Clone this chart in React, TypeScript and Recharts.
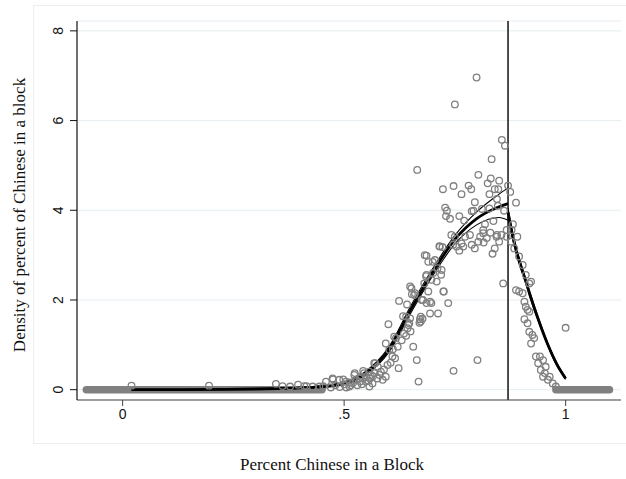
import {
  ComposedChart,
  XAxis,
  YAxis,
  CartesianGrid,
  Scatter,
  Line,
  ReferenceLine,
} from "recharts";

// cutoff used in the density test
const cutoff = 0.87;

// axis ticks
const xTicks = [0, 0.5, 1];
const xTickLabels: Record<number, string> = { 0: "0", 0.5: ".5", 1: "1" };
const yTicks = [0, 2, 4, 6, 8];

// long runs of empty bins (density 0), first and last bin midpoint
const emptyLeft = [-0.082, 0.45];
const emptyRight = [0.978, 1.099];

// non-empty bin midpoints and their densities
const binX = [
  0.799, 0.75, 0.856, 0.863, 0.833, 0.665, 0.803, 0.831, 0.824, 0.85, 0.723, 0.747, 0.781, 0.787,
  0.765, 0.828, 0.84, 0.848, 0.87, 0.875, 0.888, 0.845, 0.795, 0.728, 0.732, 0.73, 0.739, 0.76,
  0.788, 0.811, 0.837, 0.861, 0.881, 0.818, 0.771, 0.742, 0.891, 0.845, 0.792, 0.828, 0.847, 0.867,
  0.878, 0.814, 0.844, 0.855, 0.75, 0.773, 0.807, 0.822, 0.716, 0.746, 0.765, 0.788, 0.754, 0.769,
  0.803, 0.835, 0.859, 0.682, 0.69, 0.705, 0.72, 0.686, 0.697, 0.709, 0.724, 0.735, 0.69, 0.686,
  0.697, 0.694, 0.712, 0.678, 0.784, 0.814, 0.867, 0.83, 0.801, 0.747, 0.668, 0.664, 0.656, 0.673,
  0.6, 0.624, 0.642, 0.649, 0.653, 0.658, 0.686, 0.715, 0.722, 0.7, 0.711, 0.719, 0.685, 0.681,
  0.673, 0.677, 0.64, 0.647, 0.643, 0.617, 0.613, 0.621, 0.594, 0.602, 0.609, 0.623, 0.568, 0.576,
  0.583, 0.568, 0.557, 0.545, 0.538, 0.523, 0.527, 0.504, 0.489, 0.474, 0.459, 0.444, 0.429, 0.549,
  0.564, 0.587, 0.594, 0.557, 0.512, 0.895, 0.903, 0.91, 0.918, 0.922, 0.888, 0.895, 0.903, 0.907,
  0.91, 0.914, 0.918, 0.907, 0.914, 0.918, 0.925, 0.929, 0.922, 0.933, 0.942, 0.949, 0.938, 0.955,
  0.944, 0.953, 0.964, 0.96, 0.971, 0.978, 0.949, 1.0, 0.02, 0.195, 0.346, 0.361, 0.378, 0.396,
  0.41, 0.415, 0.453, 0.475, 0.498, 0.524, 0.543, 0.57, 0.513, 0.536, 0.558, 0.633, 0.649, 0.671,
  0.67, 0.645, 0.652, 0.66, 0.701, 0.725, 0.675, 0.694, 0.76, 0.795, 0.815, 0.85, 0.84, 0.877,
  0.884, 0.47, 0.48, 0.49, 0.5, 0.505, 0.515, 0.52, 0.53, 0.535, 0.54, 0.55, 0.555, 0.56,
  0.565, 0.575, 0.58, 0.59, 0.598, 0.605, 0.61, 0.615, 0.63, 0.635, 0.64, 0.65,
];
const binY = [
  6.96, 6.36, 5.57, 5.44, 5.14, 4.9, 4.79, 4.71, 4.6, 4.66, 4.47, 4.54, 4.55, 4.47,
  4.36, 4.36, 4.47, 4.47, 4.55, 4.41, 4.17, 4.25, 4.18, 4.06, 3.99, 3.87, 3.81, 3.87,
  3.98, 4.03, 3.76, 3.99, 3.69, 3.69, 3.77, 3.45, 3.41, 3.45, 3.99, 4.04, 4.1, 3.56,
  3.56, 3.56, 3.41, 3.45, 3.41, 3.41, 3.41, 3.38, 3.19, 3.23, 3.26, 3.23, 3.19, 3.19,
  3.3, 3.03, 2.37, 3.0, 2.85, 2.89, 2.67, 2.56, 2.45, 2.41, 2.19, 1.93, 2.19, 1.93,
  1.93, 1.7, 1.7, 2.0, 3.45, 3.49, 3.41, 3.5, 0.66, 0.42, 0.18, 0.66, 0.96, 1.52,
  1.46, 1.98, 1.9, 2.3, 2.13, 2.11, 2.99, 3.2, 3.18, 2.85, 2.71, 2.56, 2.53, 2.37,
  1.63, 1.58, 1.63, 1.48, 1.37, 1.15, 1.18, 0.96, 1.03, 0.89, 0.74, 0.48, 0.59, 0.51,
  0.4, 0.37, 0.4, 0.37, 0.29, 0.33, 0.22, 0.18, 0.22, 0.25, 0.18, 0.07, 0.07, 0.18,
  0.14, 0.22, 0.29, 0.07, 0.07, 2.97, 2.78, 2.56, 2.37, 2.41, 2.22, 2.19, 2.15, 1.96,
  1.85, 1.78, 1.74, 1.57, 1.48, 1.29, 1.22, 1.15, 1.03, 0.74, 0.74, 0.66, 0.59, 0.51,
  0.44, 0.37, 0.29, 0.22, 0.14, 0.07, 0.29, 1.38, 0.09, 0.09, 0.13, 0.08, 0.07, 0.11,
  0.08, 0.08, 0.08, 0.23, 0.23, 0.37, 0.42, 0.59, 0.16, 0.18, 0.25, 1.64, 1.59, 1.57,
  1.49, 1.44, 2.26, 2.15, 2.6, 2.19, 2.0, 1.96, 3.1, 3.15, 3.28, 3.3, 3.15, 3.3,
  3.15, 0.05, 0.1, 0.06, 0.12, 0.05, 0.1, 0.15, 0.1, 0.25, 0.12, 0.28, 0.2, 0.33,
  0.3, 0.25, 0.33, 0.45, 0.55, 0.6, 0.9, 0.7, 1.1, 1.25, 1.2, 1.3,
];

// fitted density left of the cutoff, with CI bands
const fitLeftX = [0.02, 0.1, 0.2, 0.3, 0.35, 0.4, 0.45, 0.5, 0.55, 0.6, 0.65, 0.7, 0.75, 0.8, 0.85, 0.87];
const fitLeft = [0.0, 0.0, 0.005, 0.015, 0.025, 0.04, 0.07, 0.14, 0.38, 0.88, 1.78, 2.62, 3.35, 3.82, 4.08, 4.15];
const fitLeftHi = [0.01, 0.01, 0.015, 0.025, 0.035, 0.05, 0.09, 0.17, 0.42, 0.94, 1.86, 2.7, 3.44, 3.97, 4.36, 4.5];
const fitLeftLo = [-0.01, -0.01, -0.005, 0.005, 0.015, 0.03, 0.05, 0.11, 0.34, 0.82, 1.7, 2.54, 3.25, 3.68, 3.84, 3.78];

// fitted density right of the cutoff, with CI bands
const fitRightX = [0.87, 0.88, 0.89, 0.9, 0.91, 0.92, 0.94, 0.96, 0.98, 1.0];
const fitRight = [3.95, 3.45, 3.05, 2.72, 2.42, 2.1, 1.52, 1.0, 0.57, 0.25];
const fitRightHi = [4.05, 3.53, 3.12, 2.78, 2.47, 2.15, 1.56, 1.03, 0.6, 0.27];
const fitRightLo = [3.85, 3.37, 2.98, 2.66, 2.37, 2.05, 1.48, 0.97, 0.54, 0.23];

const toPts = (xs: number[], ys: number[]) => xs.map((x, i) => ({ x, y: ys[i] }));

const bins = toPts(binX, binY);
const emptyL = emptyLeft.map((x) => ({ x, y: 0 }));
const emptyR = emptyRight.map((x) => ({ x, y: 0 }));

const gray = "#808080";
const sansFont = "'Liberation Sans', Arial, sans-serif";
const serifFont = "'Liberation Serif', 'Times New Roman', serif";

const Ring = (props: any) => {
  const { cx, cy } = props;
  if (cx == null || cy == null) return null;
  return <circle cx={cx} cy={cy} r={3.3} fill="none" stroke={gray} strokeWidth={1.3} />;
};

const YTick = (props: any) => {
  const { y, payload } = props;
  return (
    <text
      x={58}
      y={y}
      transform={`rotate(-90, 58, ${y})`}
      textAnchor="middle"
      dominantBaseline="central"
      fontFamily={sansFont}
      fontSize={14}
      fill="#111"
    >
      {payload.value}
    </text>
  );
};

const fitLine = (data: { x: number; y: number }[], width: number, key: string) => (
  <Line
    key={key}
    data={data}
    dataKey="y"
    type="monotone"
    stroke="#000"
    strokeWidth={width}
    dot={false}
    activeDot={false}
    isAnimationActive={false}
  />
);

export default function App() {
  return (
    <div style={{ position: "absolute", left: 0, top: 0, width: 626, height: 479, background: "#fff" }}>
      <div
        style={{
          position: "absolute",
          left: 33,
          top: 5,
          width: 610,
          height: 437,
          border: "1px solid #e9eff2",
        }}
      />
      <div style={{ position: "absolute", left: 0, top: 0 }}>
        <ComposedChart width={626} height={479} margin={{ top: 21, right: 5, bottom: 0, left: 33 }}>
          <CartesianGrid horizontal vertical={false} stroke="#e6eef2" strokeWidth={1} />
          <XAxis
            dataKey="x"
            type="number"
            domain={[-0.103, 1.125]}
            allowDataOverflow
            ticks={xTicks}
            tickFormatter={(v: number) => xTickLabels[v] ?? String(v)}
            tickSize={6}
            tickMargin={3}
            height={79}
            axisLine={{ stroke: "#444", strokeWidth: 1.2 }}
            tickLine={{ stroke: "#444" }}
            tick={{ fill: "#111", fontSize: 14, fontFamily: sansFont }}
            label={{
              content: () => (
                <text x={332} y={470} textAnchor="middle" fontFamily={serifFont} fontSize={17} fill="#111">
                  Percent Chinese in a Block
                </text>
              ),
            }}
          />
          <YAxis
            type="number"
            domain={[-0.23, 8.22]}
            allowDataOverflow
            ticks={yTicks}
            width={44}
            tickSize={7}
            axisLine={{ stroke: "#111", strokeWidth: 1.2 }}
            tickLine={{ stroke: "#111" }}
            tick={<YTick />}
            label={{
              content: () => (
                <text
                  x={25}
                  y={215}
                  transform="rotate(-90, 25, 215)"
                  textAnchor="middle"
                  fontFamily={serifFont}
                  fontSize={17}
                  fill="#111"
                >
                  Density of percent of Chinese in a block
                </text>
              ),
            }}
          />
          <Line
            data={emptyL}
            dataKey="y"
            type="linear"
            stroke={gray}
            strokeWidth={7.5}
            strokeLinecap="round"
            dot={false}
            activeDot={false}
            isAnimationActive={false}
          />
          <Line
            data={emptyR}
            dataKey="y"
            type="linear"
            stroke={gray}
            strokeWidth={7.5}
            strokeLinecap="round"
            dot={false}
            activeDot={false}
            isAnimationActive={false}
          />
          <Scatter data={bins} dataKey="y" shape={<Ring />} isAnimationActive={false} />
          {fitLine(toPts(fitLeftX, fitLeftHi), 1.1, "lh")}
          {fitLine(toPts(fitLeftX, fitLeftLo), 1.1, "ll")}
          {fitLine(toPts(fitLeftX, fitLeft), 2.8, "lf")}
          {fitLine(toPts(fitRightX, fitRightHi), 1.1, "rh")}
          {fitLine(toPts(fitRightX, fitRightLo), 1.1, "rl")}
          {fitLine(toPts(fitRightX, fitRight), 2.8, "rf")}
          <ReferenceLine x={cutoff} stroke="#000" strokeWidth={1.4} />
        </ComposedChart>
      </div>
    </div>
  );
}
